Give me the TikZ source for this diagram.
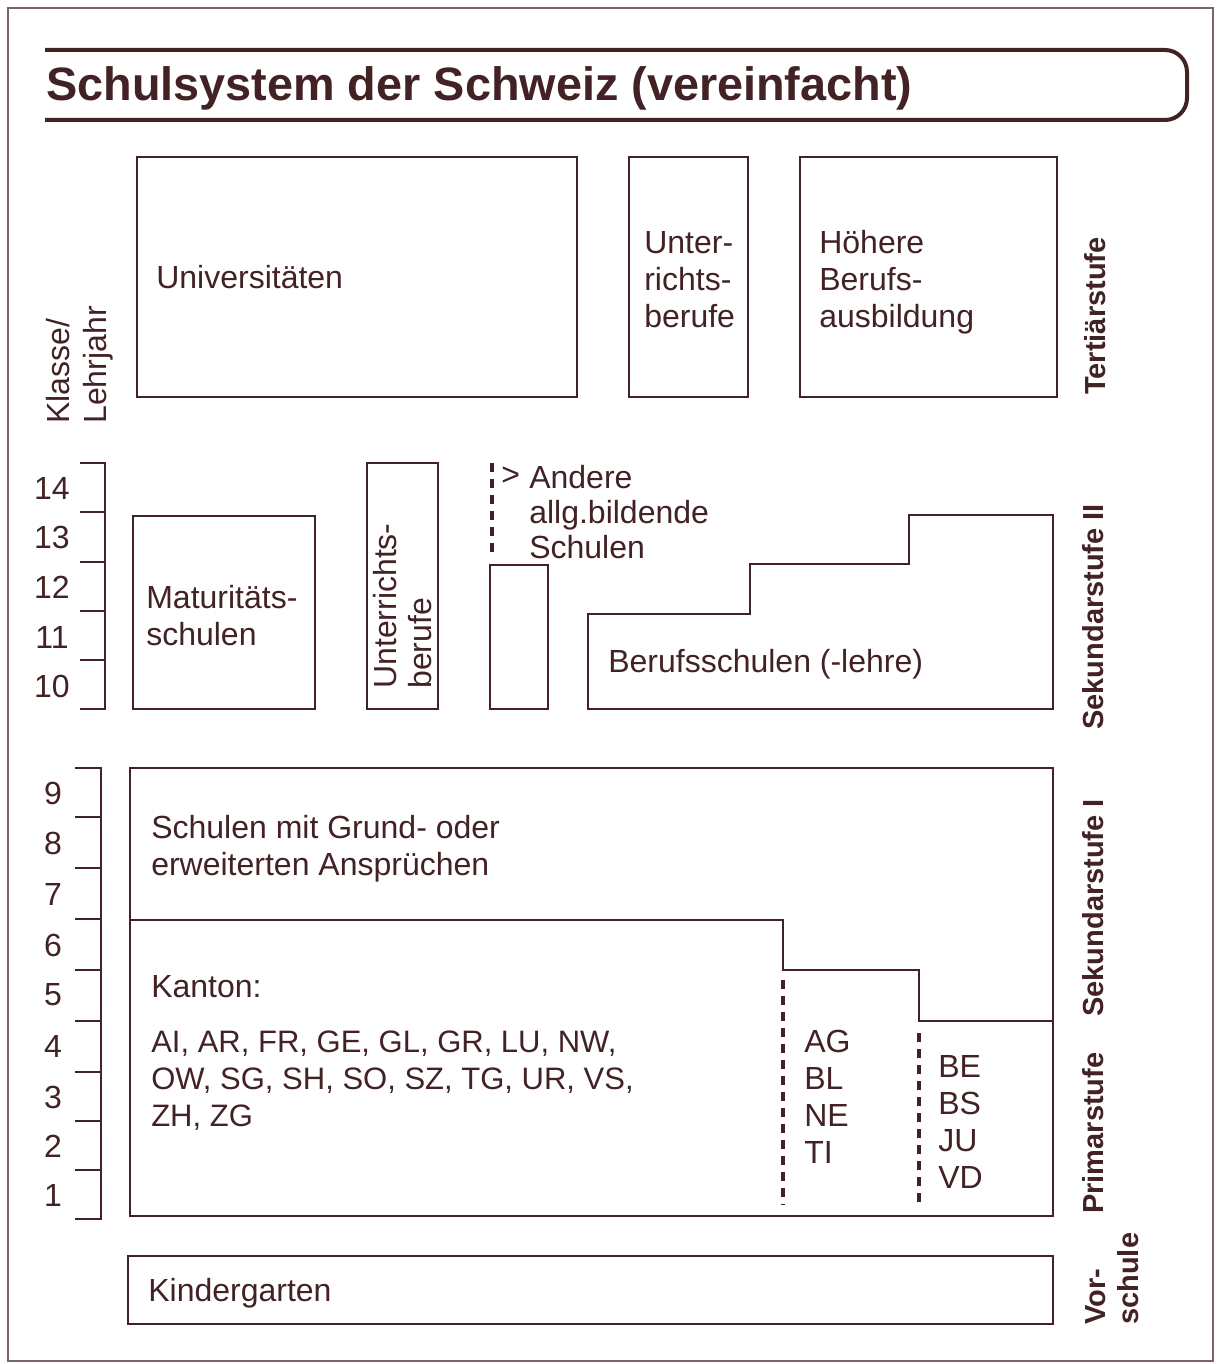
\documentclass[tikz,border=0pt]{standalone}
\usepackage{fontspec}
\setmainfont{Liberation Sans}
\definecolor{ink}{RGB}{66,34,36}

\begin{document}
\begin{tikzpicture}
  [x=0.5pt,y=-0.5pt,color=ink,line width=1.3pt,
   every node/.style={inner sep=0pt,text=ink,font=\fontsize{16}{18.5}\selectfont},
   lbl/.style={anchor=north west,align=left},
   stufe/.style={rotate=90,anchor=west,font=\bfseries\fontsize{14.5}{16.5}\selectfont},
   dashline/.style={line width=1.8pt,dash pattern=on 4.5pt off 3.5pt}]
  \useasboundingbox (0,0) rectangle (1217,1364);
  \draw[line width=0.8pt,ink!70] (8,8) rectangle (1213,1361);

  % title
  \draw[line width=2pt,rounded corners=11pt] (45,50) -- (1187,50) -- (1187,120) -- (45,120);
  \node[anchor=base west,font=\bfseries\fontsize{23.4}{27}\selectfont] (title) at (45,101) {Schulsystem der Schweiz (vereinfacht)};

  % tertiaerstufe
  \draw (137,157) rectangle (577,397);
  \draw (629,157) rectangle (748,397);
  \draw (800,157) rectangle (1057,397);
  \node[anchor=base west] (uni) at (155,288) {Universitäten};
  \node[lbl] (lehr1) at (643,230) {Unter-\\richts-\\berufe};
  \node[lbl] (hbb) at (818,229) {Höhere\\Berufs-\\ausbildung};
  \node[lbl,rotate=90] (klasse) at (45,425) {Klasse/\\Lehrjahr};
  \node[stufe] (tert) at (1095,396) {Tertiärstufe};

  % sekundarstufe II
  \draw (80,463) -- (105,463) -- (105,709) -- (80,709);
  \foreach \y in {512,562,611,660} \draw (80,\y) -- (105,\y);
  \foreach \n/\y in {14/488,13/537,12/587,11/637,10/686}
    \node (k\n) at (52,\y) {\n};
  \draw (133,516) rectangle (315,709);
  \node[lbl] (mat) at (145,584) {Maturitäts-\\schulen};
  \draw (367,463) rectangle (438,709);
  \node[lbl,rotate=90,font=\fontsize{16}{17.5}\selectfont] (lehr2) at (372,690) {Unterrichts-\\berufe};
  \draw[dashline] (492,463) -- (492,556);
  \draw (490,565) rectangle (548,709);
  \node[anchor=west] (gt) at (500,476) {>};
  \node[lbl,font=\fontsize{16}{17.5}\selectfont] (andere) at (528,464) {Andere\\allg.bildende\\Schulen};
  \draw (588,709) -- (588,614) -- (750,614) -- (750,564) -- (909,564)
    -- (909,515) -- (1053,515) -- (1053,709) -- cycle;
  \node[anchor=base west] (beruf) at (607,672) {Berufsschulen (-lehre)};
  \node[stufe] (sek2) at (1093,731) {Sekundarstufe II};

  % sekundarstufe I und primarstufe
  \draw (75,768) -- (101,768) -- (101,1219) -- (75,1219);
  \foreach \y in {817,868,919,970,1021,1072,1121,1170} \draw (75,\y) -- (101,\y);
  \foreach \n/\y in {9/793,8/843,7/894,6/945,5/995,4/1046,3/1097,2/1146,1/1195}
    \node (s\n) at (53,\y) {\n};
  \draw (130,768) rectangle (1053,1216);
  \draw (130,920) -- (783,920) -- (783,970) -- (919,970) -- (919,1021) -- (1053,1021);
  \draw[dashline] (783,980) -- (783,1205);
  \draw[dashline] (919,1033) -- (919,1203);
  \node[lbl] (sek) at (150,814) {Schulen mit Grund- oder\\erweiterten Ansprüchen};
  \node[anchor=base west] (kanton) at (150,997) {Kanton:};
  \node[lbl,font=\fontsize{15.5}{18.5}\selectfont] (kt1) at (150,1030) {AI, AR, FR, GE, GL, GR, LU, NW,\\OW, SG, SH, SO, SZ, TG, UR, VS,\\ZH, ZG};
  \node[lbl] (kt2) at (803,1029) {AG\\BL\\NE\\TI};
  \node[lbl] (kt3) at (937,1054) {BE\\BS\\JU\\VD};
  \node[stufe] (sek1) at (1093,1018) {Sekundarstufe I};
  \node[stufe] (prim) at (1093,1215) {Primarstufe};

  % vorschule
  \draw (128,1256) rectangle (1053,1324);
  \node[anchor=base west] (kg) at (147,1301) {Kindergarten};
  \node[lbl,rotate=90,font=\bfseries\fontsize{14.5}{16.5}\selectfont] (vor) at (1084,1326) {Vor-\\schule};
\end{tikzpicture}
\end{document}
